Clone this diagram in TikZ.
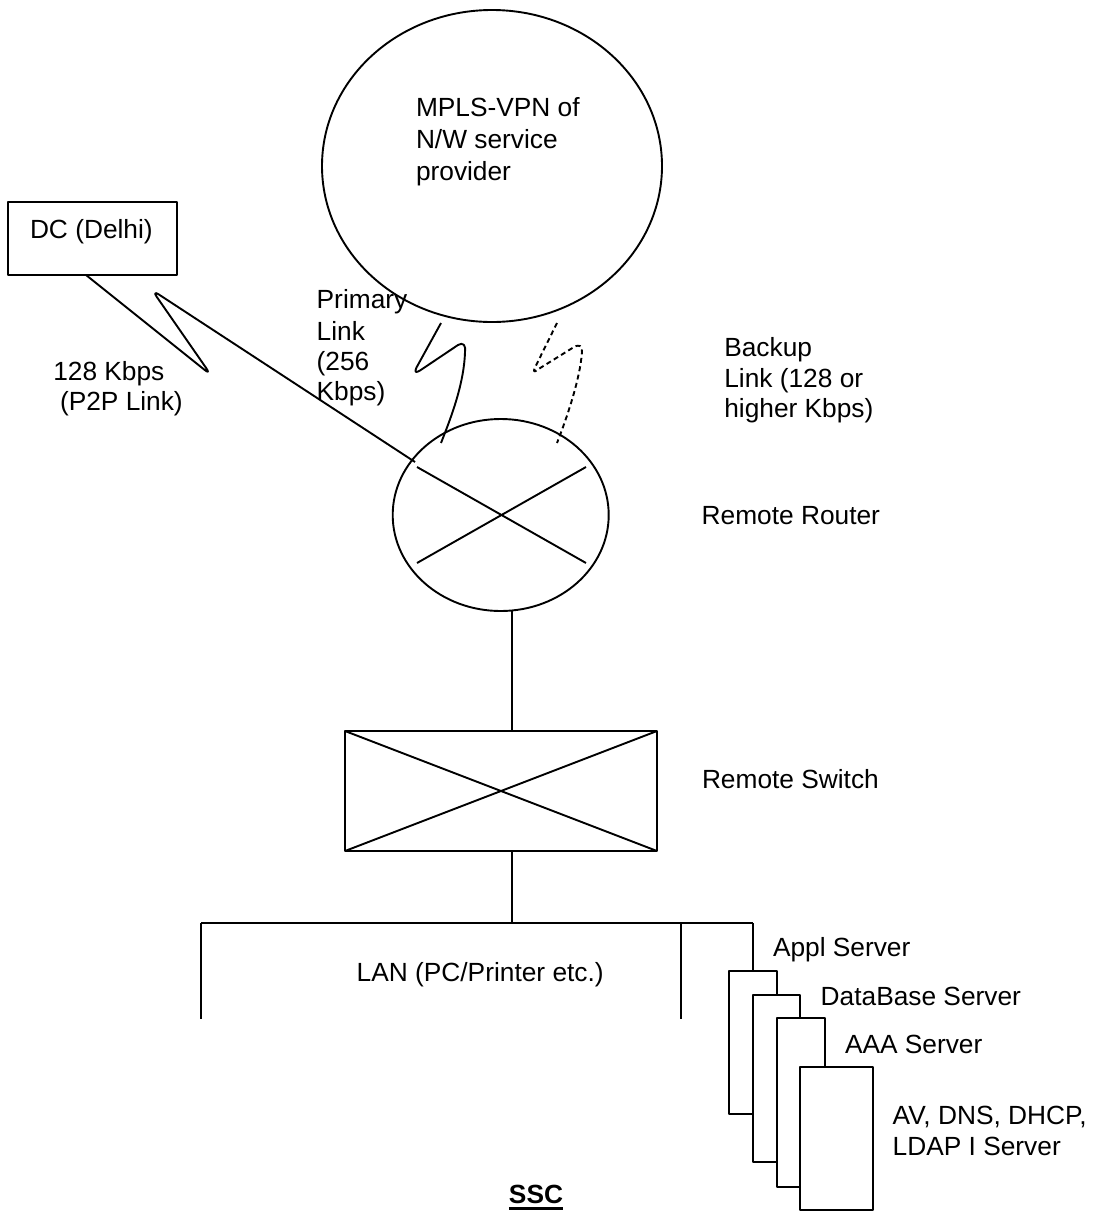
\documentclass[tikz,border=0pt]{standalone}
\usepackage{fontspec}
\setmainfont{Liberation Sans}
\usetikzlibrary{shapes.geometric}
\begin{document}
\begin{tikzpicture}[x=1pt,y=-1pt, line width=1.9pt, line join=round,
  lbl/.style={anchor=base west, inner sep=0pt, outer sep=0pt, font=\fontsize{26.3}{30.5}\selectfont},
  shp/.style={draw, inner sep=0pt, outer sep=0pt},
  card/.style={shp, fill=white, rectangle},
  backup/.style={dash pattern=on 5pt off 3.5pt},
  ]
\useasboundingbox (0,0) rectangle (1102,1213);
\fill[white] (0,0) rectangle (1102,1213);

% cloud of the service provider
\node[shp, ellipse, minimum width=340pt, minimum height=312pt] (mpls) at (492,166) {};
\node[lbl] (m1) at (416,116.7) {MPLS-VPN of};
\node[lbl] (m2) at (416,148.3) {N/W service};
\node[lbl] (m3) at (416,180) {provider};

% DC box
\node[shp, rectangle, minimum width=168.4pt, minimum height=72.7pt] (dc) at (92.5,238.7) {};
\node[lbl] (dct) at (30,238.3) {DC (Delhi)};

% router
\node[shp, ellipse, minimum width=216pt, minimum height=192pt] (router) at (500.7,515) {};
\coordinate (rx1) at (417,467);
\coordinate (rx2) at (586,563);
\coordinate (rx3) at (417,563);
\coordinate (rx4) at (586,467);
\draw (rx1) -- (rx2);
\draw (rx3) -- (rx4);

% switch
\node[shp, rectangle, minimum width=312pt, minimum height=120pt] (sw) at (501,791) {};
\draw (sw.north west) -- (sw.south east);
\draw (sw.south west) -- (sw.north east);

% links
\coordinate (p2ps) at (86,275);
\coordinate (p2pe) at (415,462);
\draw[rounded corners=8pt] (p2ps) -- (211,375) -- (152,290) -- (p2pe);

\coordinate (prs) at (441,323);
\coordinate (pre) at (441,443);
\draw (prs) -- (416.5,367.5) .. controls (414,372.5) and (416,373) .. (420,370.5)
  -- (458,345) .. controls (463,342) and (466,345) .. (465,352)
  .. controls (464,385) and (450,420) .. (pre);

\coordinate (bks) at (557,323);
\coordinate (bke) at (557,443);
\draw[backup] (bks) -- (534.5,368.5) .. controls (533,372) and (535,372) .. (537,370)
  -- (574,347) .. controls (580,344) and (582,346) .. (582,352)
  .. controls (580,380) and (566,420) .. (bke);

% router to switch to LAN
\coordinate (rs) at (512,0);
\coordinate (busL) at (201,923);
\coordinate (busR) at (753,923);
\coordinate (busM) at (681,923);
\draw (router.south -| rs) -- (sw.north -| rs);
\draw (sw.south -| rs) -- (rs |- busL);
\draw (busL) -- (busR);
\draw (busL) -- (201,1019);
\draw (busM) -- (681,1019);

% servers
\node[card, minimum width=48pt, minimum height=143pt] (card1) at (753,1042.5) {};
\node[card, minimum width=47pt, minimum height=167pt] (card2) at (776.5,1078.5) {};
\node[card, minimum width=48pt, minimum height=169pt] (card3) at (801,1102.5) {};
\node[card, minimum width=73pt, minimum height=143pt] (card4) at (836.5,1138.5) {};
\draw (busR) -- (card1.north);

% labels
\node[lbl] (p1) at (316.7,308.3) {Primary};
\node[lbl] (p2) at (316.7,340) {Link};
\node[lbl] (p3) at (316.7,370) {(256};
\node[lbl] (p4) at (316.7,400) {Kbps)};
\node[lbl] (k1) at (53.3,380.7) {128 Kbps};
\node[lbl] (k2) at (60,410.7) {(P2P Link)};
\node[lbl] (b1) at (724.3,356.7) {Backup};
\node[lbl] (b2) at (724.3,387.3) {Link (128 or};
\node[lbl] (b3) at (724.3,417.7) {higher Kbps)};
\node[lbl] (rr) at (701.7,524.3) {Remote Router};
\node[lbl] (rsw) at (702,788.7) {Remote Switch};
\node[lbl] (lan) at (356.7,981) {LAN (PC/Printer etc.)};
\node[lbl] (appl) at (773,956.7) {Appl Server};
\node[lbl] (db) at (820.7,1005) {DataBase Server};
\node[lbl] (aaa) at (845,1053.3) {AAA Server};
\node[lbl] (av1) at (892.7,1124.3) {AV, DNS, DHCP,};
\node[lbl] (av2) at (892.7,1155.7) {LDAP I Server};
\node[lbl, anchor=base, font=\fontsize{26.3}{30.5}\selectfont\bfseries] (ssc) at (536,1203.3) {SSC};
\draw[line width=2.7pt] ([yshift=-5pt]ssc.base west) -- ([yshift=-5pt]ssc.base east);
\end{tikzpicture}
\end{document}
